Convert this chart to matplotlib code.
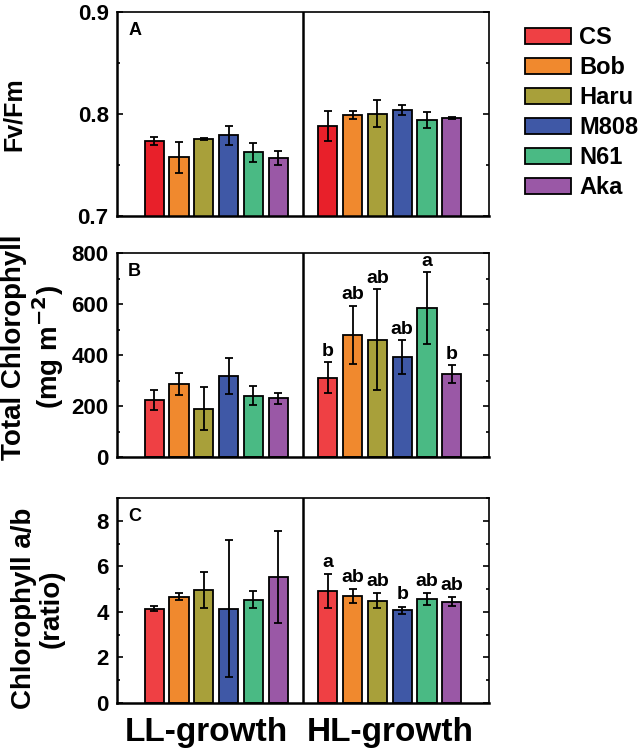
import numpy as np
import matplotlib.pyplot as plt
from matplotlib.patches import Patch
from matplotlib.ticker import MultipleLocator

plt.rcParams['font.family'] = ['Liberation Sans', 'DejaVu Sans']
plt.rcParams['font.weight'] = 'bold'

# cultivars and colours
lines = ['CS', 'Bob', 'Haru', 'M808', 'N61', 'Aka']
colors = ['#EF4044', '#F0892E', '#A8A03A', '#3F58A6', '#4ABA84', '#9A58A6']
colors_a = ['#E8202A', '#F0892E', '#A8A03A', '#3F58A6', '#4ABA84', '#9A58A6']
groups = ['LL-growth', 'HL-growth']

# Fv/Fm
fvfm_ll = [0.7735, 0.7575, 0.7758, 0.779, 0.7624, 0.7566]
fvfm_ll_err = [0.004, 0.015, 0.001, 0.009, 0.0095, 0.007]
fvfm_hl = [0.788, 0.799, 0.8003, 0.8042, 0.7941, 0.7964]
fvfm_hl_err = [0.0147, 0.004, 0.0135, 0.0047, 0.008, 0.001]

# total chlorophyll (mg m-2)
chl_ll = [225, 286, 190, 319, 240, 230]
chl_ll_err = [39, 43, 85, 70, 38, 22]
chl_hl = [311, 478, 460, 391, 584, 325]
chl_hl_err = [60, 115, 197, 66, 140, 35]
chl_hl_sig = ['b', 'ab', 'ab', 'ab', 'a', 'b']

# chlorophyll a/b
ab_ll = [4.14, 4.66, 4.97, 4.14, 4.53, 5.53]
ab_ll_err = [0.1, 0.15, 0.78, 3.0, 0.37, 2.0]
ab_hl = [4.9, 4.7, 4.5, 4.07, 4.56, 4.45]
ab_hl_err = [0.75, 0.29, 0.32, 0.15, 0.25, 0.19]
ab_hl_sig = ['a', 'ab', 'ab', 'b', 'ab', 'ab']

x_ll = np.arange(6)
x_hl = np.arange(6) + 7

fig = plt.figure(figsize=(6.42, 7.52), dpi=100)
W, H = 642, 752
axpos = [(12, 216), (253, 457), (498, 703)]
axes = []
for top, bot in axpos:
    axes.append(fig.add_axes([117 / W, 1 - bot / H, (489 - 117) / W, (bot - top) / H]))


def draw(ax, ll, ll_err, hl, hl_err, cols, ylim, major, minor, letter, sig=None, gap=0):
    for xs, vals, errs in ((x_ll, ll, ll_err), (x_hl, hl, hl_err)):
        ax.bar(xs, vals, width=0.78, color=cols, edgecolor='black', linewidth=1.3,
               yerr=errs, error_kw=dict(ecolor='black', elinewidth=1.3, capsize=3, capthick=1.3),
               zorder=2)
    if sig is not None:
        for xi, v, e, s in zip(x_hl, hl, hl_err, sig):
            ax.text(xi, v + e + gap, s, ha='center', va='bottom', fontsize=14, fontweight='bold')
    ax.axvline(6, color='black', lw=1.8, zorder=3)
    ax.set_xlim(-1.5, 13.5)
    ax.set_ylim(*ylim)
    ax.yaxis.set_major_locator(MultipleLocator(major))
    ax.yaxis.set_minor_locator(MultipleLocator(minor))
    ax.tick_params(axis='y', which='both', direction='in', right=True, labelsize=16, width=1.2,
                   pad=6)
    ax.tick_params(axis='y', which='major', length=4)
    ax.tick_params(axis='y', which='minor', length=2)
    ax.set_xticks([])
    for s in ('top', 'right'):
        ax.spines[s].set_linewidth(1.2)
    for s in ('left', 'bottom'):
        ax.spines[s].set_linewidth(1.8)
    ax.text(0.03, 0.95, letter, transform=ax.transAxes, ha='left', va='top',
            fontsize=13, fontweight='bold')


draw(axes[0], fvfm_ll, fvfm_ll_err, fvfm_hl, fvfm_hl_err, colors_a, (0.7, 0.9), 0.1, 0.05, 'A')
axes[0].set_yticks([0.7, 0.8, 0.9])
axes[0].set_yticklabels(['0.7', '0.8', '0.9'])
axes[0].yaxis.set_minor_locator(MultipleLocator(0.05))
axes[0].set_ylabel('Fv/Fm', fontsize=18, fontweight='bold')
axes[0].yaxis.set_label_coords(-0.245, 0.5)

draw(axes[1], chl_ll, chl_ll_err, chl_hl, chl_hl_err, colors, (0, 800), 200, 100, 'B',
     sig=chl_hl_sig, gap=10)
axes[1].set_ylabel('Total Chlorophyll\n(mg m$^{\\mathbf{-2}}$)', fontsize=20, fontweight='bold',
                   linespacing=1.1)
axes[1].yaxis.set_label_coords(-0.138, 0.54)

draw(axes[2], ab_ll, ab_ll_err, ab_hl, ab_hl_err, colors, (0, 9), 2, 1, 'C',
     sig=ab_hl_sig, gap=0.15)
axes[2].set_ylabel('Chlorophyll a/b\n(ratio)', fontsize=20, fontweight='bold',
                   linespacing=1.1)
axes[2].yaxis.set_label_coords(-0.14, 0.46)

axes[2].set_xticks([2.1, 9.5])
axes[2].set_xticklabels(groups, fontsize=24, fontweight='bold')
axes[2].tick_params(axis='x', length=0, pad=10)

handles = [Patch(facecolor=c, edgecolor='black', linewidth=1.3) for c in colors]
fig.legend(handles, lines, loc='upper left', bbox_to_anchor=(525 / W, 1 - 26 / H),
           frameon=False, fontsize=17, handlelength=1.95, handleheight=0.64,
           labelspacing=0.3, handletextpad=0.34, borderaxespad=0, borderpad=0)

fig.savefig('out.png', dpi=100)
